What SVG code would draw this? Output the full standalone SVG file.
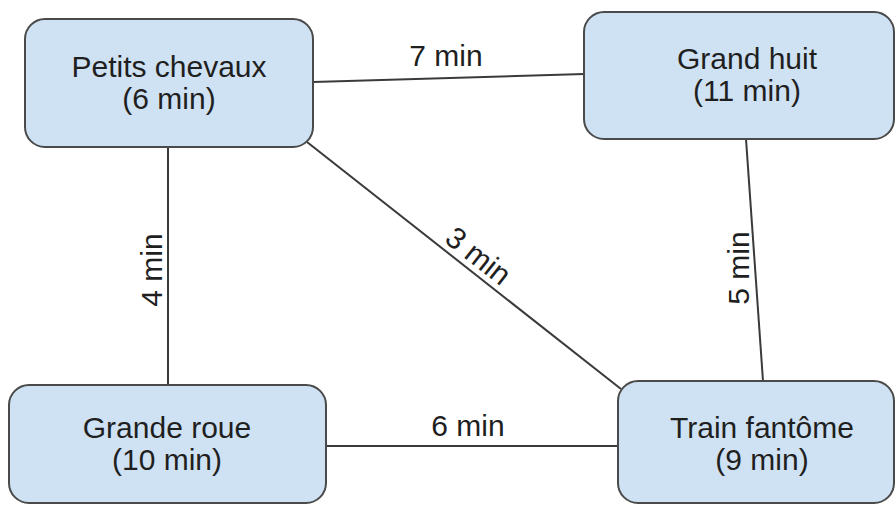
<svg xmlns="http://www.w3.org/2000/svg" width="896" height="505" viewBox="0 0 896 505">
<style>
.node rect{fill:#cfe2f3;stroke:#4a4a4a;stroke-width:2}
text{font-family:"Liberation Sans",Arial,sans-serif;font-size:30px;fill:#1f1f1f;text-anchor:middle}
.edges line{stroke:#3a3a3a;stroke-width:2}
</style>
<rect width="896" height="505" fill="#ffffff"/>
<g class="edges" id="connectors">
<line x1="313" y1="82" x2="584" y2="74"/>
<line x1="168" y1="147" x2="168" y2="385"/>
<line x1="307" y1="142" x2="621" y2="389"/>
<line x1="746" y1="139" x2="763" y2="381"/>
<line x1="326" y1="446" x2="618" y2="446"/>
<text x="446" y="66">7 min</text>
<text transform="translate(162 270) rotate(-90)">4 min</text>
<text transform="translate(472 264) rotate(38.2)">3 min</text>
<text transform="translate(749 268) rotate(-90)">5 min</text>
<text x="468" y="436">6 min</text>
</g>
<g class="node" id="petits-chevaux">
<rect x="25" y="19" width="288" height="128" rx="20"/>
<text x="169" y="77">Petits chevaux</text>
<text x="169" y="109">(6 min)</text>
</g>
<g class="node" id="grand-huit">
<rect x="584" y="12" width="310" height="127" rx="20"/>
<text x="747" y="69">Grand huit</text>
<text x="747" y="101">(11 min)</text>
</g>
<g class="node" id="grande-roue">
<rect x="9" y="385" width="317" height="118" rx="20"/>
<text x="167" y="438">Grande roue</text>
<text x="167" y="470">(10 min)</text>
</g>
<g class="node" id="train-fantome">
<rect x="618" y="381" width="276" height="122" rx="20"/>
<text x="762" y="438">Train fantôme</text>
<text x="762" y="470">(9 min)</text>
</g>
</svg>
